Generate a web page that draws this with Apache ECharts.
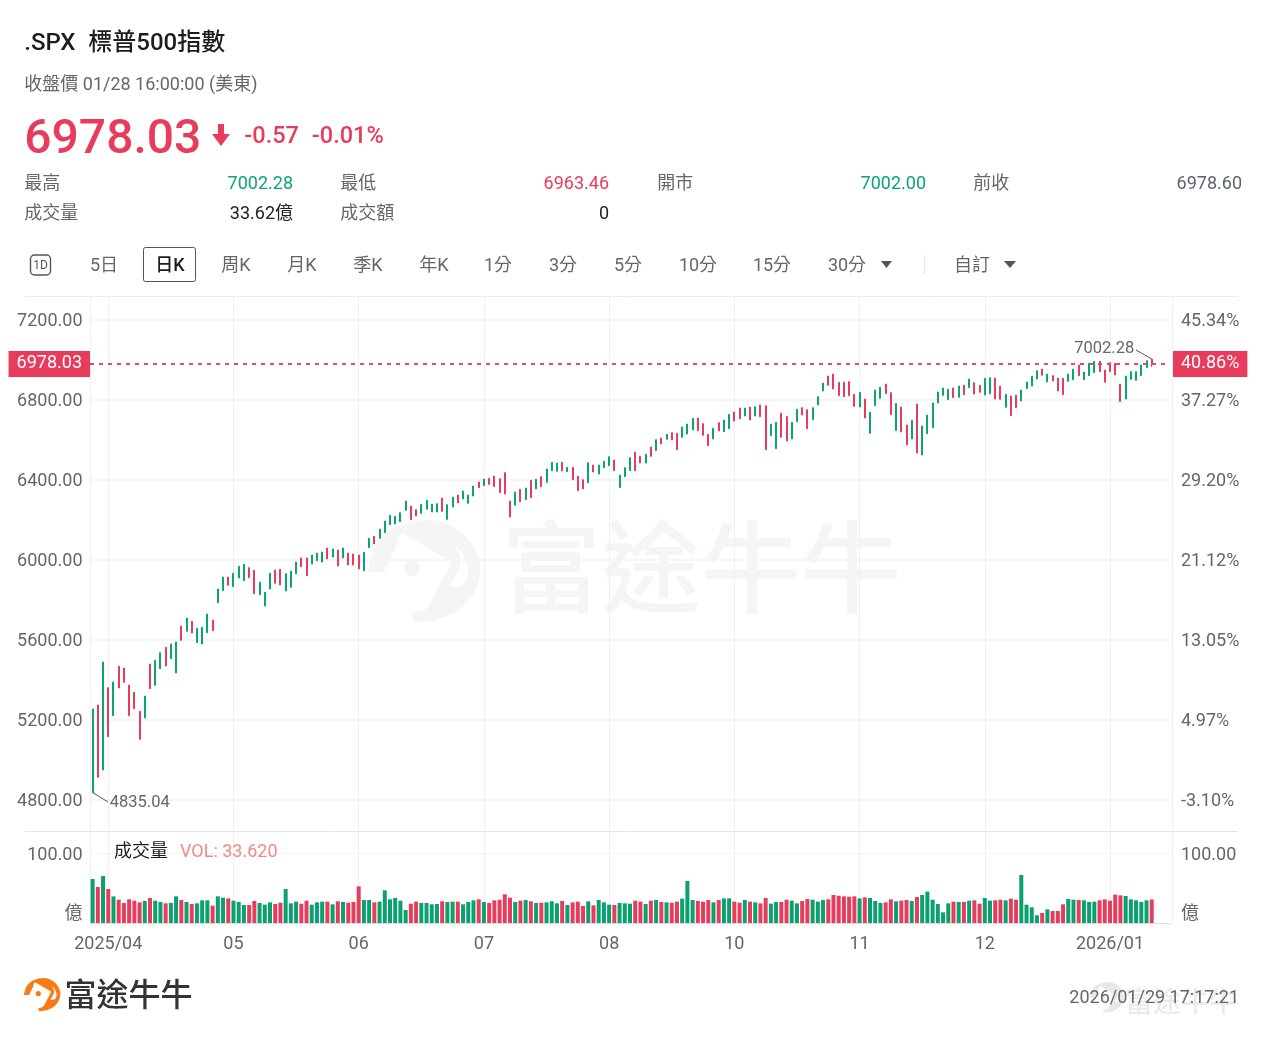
<!DOCTYPE html>
<html><head><meta charset="utf-8">
<style>html,body{margin:0;padding:0;background:#fff}#c{width:1263px;height:1037px}</style>
<script src="https://cdn.jsdelivr.net/npm/echarts@6/dist/echarts.min.js"></script>
</head><body><div id="c"></div>
<script>
// S&P 500 daily K-line, newest bar last
const highs=[5252.5,5272.5,5487.5,5359,5387.5,5466,5457.5,5372.5,5336,5241,
5317.5,5477.5,5496,5534,5561,5577.5,5587.5,5667.5,5707.5,5691,
5656,5661,5727.5,5697.5,5852.5,5912.5,5912.5,5931,5966,5976,
5959,5946,5886,5836,5931,5947.5,5951,5929,5942.5,5987.5,
6007.5,6007.5,6022.5,6032.5,6037.5,6057.5,6052.5,6047.5,6057.5,6032.5,
6027.5,6022.5,6036,6106,6116,6152.5,6192.5,6221,6216,6234,
6292.5,6267.5,6249,6276,6296,6276,6279,6307.5,6274,6311,
6322.5,6342.5,6322.5,6367.5,6387.5,6402.5,6406,6417.5,6404,6434,
6292.5,6337.5,6351,6357.5,6396,6401,6414,6452.5,6486,6482.5,
6486,6461,6461,6416,6399,6484,6472.5,6472.5,6491,6514,
6497.5,6422.5,6459,6509,6537.5,6516,6526,6562.5,6599,6607.5,
6626,6634,6631,6662.5,6677.5,6706,6707.5,6679,6626,6656,
6684,6697.5,6726,6737.5,6757.5,6757.5,6762.5,6764,6772.5,6769,
6676,6686,6731,6716,6686,6751,6759,6749,6759,6814,
6882.5,6917.5,6927.5,6886,6886,6889,6826,6836,6802.5,6736,
6847.5,6861,6877.5,6834,6780,6762.5,6672.5,6696,6777.5,6667.5,
6722.5,6782.5,6837.5,6857.5,6851,6857.5,6867.5,6871,6902.5,6884,
6871,6906,6909,6907.5,6866,6826,6817.5,6822.5,6847.5,6887.5,
6916,6944,6952.5,6927.5,6919,6907.5,6906,6927.5,6952.5,6972.5,
6937.5,6981,6991,6991,6947.5,6984,6981,6877.5,6917.5,6939,
6939,6972.5,6994,7002.28];
const lows=[4835.04,4911,4947.5,5114,5219,5357.5,5386,5219,5254,5101,
5207.5,5354,5371,5454,5467.5,5504,5432.5,5596,5641,5632.5,
5584,5577.5,5634,5644,5784,5844,5871,5864,5907.5,5894,
5909,5829,5824,5767.5,5852.5,5881,5872.5,5842.5,5861,5929,
5964,5919,5977.5,5994,5987.5,6002.5,6012.5,5967.5,6007.5,5972.5,
5972.5,5952.5,5944,6059,6077.5,6106,6134,6174,6177.5,6189,
6246,6199,6217.5,6231,6251,6237.5,6237.5,6241,6201,6262.5,
6282.5,6302.5,6281,6317.5,6359,6369,6376,6364,6334,6327.5,
6212.5,6271,6289,6299,6309,6352.5,6364,6386,6444,6441,
6442.5,6439,6399,6344,6352.5,6384,6437.5,6427.5,6459,6469,
6444,6359,6414,6444,6444,6482.5,6482.5,6516,6545,6577.5,
6601,6597.5,6549,6611,6627.5,6647.5,6644,6621,6569,6602.5,
6642.5,6639,6654,6692.5,6704,6717.5,6697.5,6717.5,6714,6549,
6619,6554,6611,6592.5,6602.5,6689,6722.5,6654,6699,6772.5,
6842.5,6871,6852.5,6819,6814,6819,6766,6762.5,6707.5,6631,
6769,6806,6829,6724,6645,6637.5,6573.5,6602.5,6532.5,6522.5,
6629,6659,6782.5,6821,6799,6809,6811,6824,6859,6827.5,
6836,6822.5,6829,6802.5,6801,6761,6719,6759,6792.5,6854,
6867.5,6902.5,6921,6887.5,6892.5,6842.5,6824,6891,6899,6919,
6899,6919,6934,6939,6886,6939,6922.5,6789,6802.5,6901,
6896,6919,6959,6963.46];
// G closes higher, R closes lower
const dirs='GRGRGRRRRR'+'GRGGRGGRGR'+'GGGRGGRGGG'+'RRGGGRRGGG'+'RRGGGRGRGR'+
'RRGGRGGGGG'+'GRRGGGGRGG'+'RGGGRGRRRR'+'RGRGRGRGGG'+'RGRRRGRGGG'+
'RGGGRRGRGR'+'GRRGGGRRRG'+'RGGRRGRGRR'+'GGRRGGRRGG'+'GRRRRRRGRG'+
'GGRRGRRGRG'+'GGGGGRGRGR'+'RGGRRGRRGG'+'GGRGRRRGGR'+'GGGRRRRRGG'+'GGGR';
const volumes=[62.9,51.4,67.1,48.6,38,33.3,28.6,33.8,31.9,29.5,
31.4,35.7,31.9,30,28.1,28.6,38.1,32.9,30,27.1,
28.1,32.4,32.4,24.8,38.1,36.2,35.2,31.9,30,25.7,
25.7,31.4,28.6,26.2,29.5,27.1,29,48.6,28.1,30.5,
27.6,31.9,26.2,29.5,30.5,30.5,26.7,31,30,29,
30,52.4,32.9,32.9,29.5,30.5,46.7,33.8,35.7,31.9,
18.6,27.6,30.5,28.6,28.6,26.7,27.1,31,30,30.5,
30.5,26.7,30,32.4,33.8,30,28.6,32.4,33.3,41,
36.2,30,31.9,32.9,31,28.6,29,29.5,31,28.1,
31.4,25.7,29.5,30.5,24.3,31,25.2,32.9,29.5,26.2,
25.7,28.6,28.1,27.6,31.9,30.5,27.1,31.9,32.9,30,
29.5,29,30.5,34.8,60,32.9,31.4,30.5,32.9,29.5,
32.9,35.2,35.2,30.5,29,32.9,30.5,29.5,28.1,35.7,
27.6,30,30,33.3,31.9,28.1,31.4,34.3,33.3,30.5,
32.9,33.8,40,39,38.1,37.6,38.1,35.2,36.7,35.7,
31.4,28.6,29.5,33.8,31,31.9,32.9,31.4,37.1,40,
44.8,33.3,27.1,15.2,28.1,30.5,30,30,31.9,32.4,
27.6,35.7,31.9,32.4,33.3,32.4,34.8,33.3,68.6,26.2,
22.4,11,14.3,19.5,17.1,17.1,26.7,34.3,33.3,32.9,
32.4,30,30.5,32.4,33.8,31.9,40.5,39.5,38.6,33.8,
32.4,30,32.4,33.62];
const lastBar={open:7002.00,close:6978.03,low:6963.46,high:7002.28};
const priceTicks=[4800,5200,5600,6000,6400,6800,7200];
const pctLabels=['-3.10%','4.97%','13.05%','21.12%','29.20%','37.27%','45.34%'];
const monthLabels={3:'2025/04',27:'05',51:'06',75:'07',99:'08',123:'10',147:'11',171:'12',195:'2026/01'};
const slotCount=207;
const categories=Array.from({length:slotCount},(_,i)=>String(i));

const GREEN='#0aa574',RED='#e83c5c',GREY='#666',FONT='Roboto,"Noto Sans CJK TC",sans-serif';
const lastIndex=highs.length-1;
const candles=highs.map((h,i)=>{
  if(i===lastIndex) return [lastBar.open,lastBar.close,lastBar.low,lastBar.high];
  return dirs[i]==='G'?[lows[i],h,lows[i],h]:[h,lows[i],lows[i],h];
});
const volumeBars=volumes.map((v,i)=>({value:v,itemStyle:{color:dirs[i]==='G'?'#0aa06f':'#e83c5c'}}));
const hasMonth=i=>monthLabels[i]!==undefined;

// y is the visual centre of the glyphs, so nudge by the font's baseline offset
function txt(x,y,text,fill,size,align,weight){
  const s=size||18,a=align||'left';
  return {type:'text',x:a==='left'?x-0.7:x,y:y+s*0.1,z:10,style:{text,fill:fill||GREY,font:`${weight||400} ${s}px ${FONT}`,align:a,verticalAlign:'middle'}};
}
function rule(x1,y1,x2,y2,stroke){
  return {type:'line',z:1,shape:{x1,y1,x2,y2},style:{stroke,lineWidth:1}};
}
// brand mark outline, registered as a reusable shape
echarts.graphic.registerShape('brandMark',echarts.graphic.extendPath('M366 572C368 545 385 522 425 520C455 520 478 545 478 568C478 598 455 622 412 622L410 612C420 612 425 610 428 604L450 562L400 533L396 538L394 547L382 572ZM452 545C458 553 460 560 458 566C456 572 452 580 447 585C455 590 464 586 466 576C468 566 462 552 452 545ZM402 568A8 8 0 1 0 418 568A8 8 0 1 0 402 568Z',{}));
function logo(x,y,scale,fill){
  return {type:'brandMark',x:x-366*scale,y:y-520*scale,scaleX:scale,scaleY:scale,z:0,style:{fill}};
}
const tabs=[[104,'5日'],[236,'周K'],[302,'月K'],[368,'季K'],[434,'年K'],[498,'1分'],[563,'3分'],[628,'5分'],[698,'10分'],[772,'15分'],[847,'30分'],[972,'自訂']];
const graphics=[
  // watermark
  logo(368,520,1,'#f5f5f7'),
  {type:'text',x:701,y:567,z:0,style:{text:'富途牛牛',fill:'#f5f5f7',font:`500 100px "Noto Sans CJK TC",sans-serif`,align:'center',verticalAlign:'middle'}},
  // header
  txt(25,41.5,'.SPX',"#1c1c1e",24,'left',500),
  txt(89,41.5,'標普500指數',"#1c1c1e",24,'left',500),
  txt(25,84,'收盤價 01/28 16:00:00 (美東)',GREY,18),
  txt(25,136,'6978.03',RED,48,'left',500),
  {type:'polygon',z:10,shape:{points:[[218,124],[224,124],[224,134],[230,134],[221,146],[212,134],[218,134]]},style:{fill:RED}},
  txt(245,135,'-0.57',RED,23.5,'left',500),
  txt(312.5,135,'-0.01%',RED,23.5,'left',500),
  txt(25,183,'最高'),txt(293,183,'7002.28',GREEN,18,'right'),
  txt(341,183,'最低'),txt(609,183,'6963.46',RED,18,'right'),
  txt(658,183,'開市'),txt(926,183,'7002.00',GREEN,18,'right'),
  txt(974,183,'前收'),txt(1242,183,'6978.60','#5c6470',18,'right'),
  txt(25,213,'成交量'),txt(293,213,'33.62億','#222',18,'right'),
  txt(341,213,'成交額'),txt(609,213,'0','#222',18,'right'),
  // period switcher
  {type:'rect',z:10,shape:{x:30.5,y:255,width:20,height:20,r:4},style:{fill:'none',stroke:'#555',lineWidth:1.4}},
  txt(40.5,265,'1D','#555',12,'center'),
  {type:'rect',z:10,shape:{x:143.5,y:247.5,width:52,height:34,r:2},style:{fill:'#fff',stroke:'#555',lineWidth:1}},
  txt(170,265,'日K','#1c1c1e',18,'center',500),
  ...tabs.map(t=>txt(t[0],265,t[1],GREY,18,'center')),
  {type:'polygon',z:10,shape:{points:[[881,261],[892,261],[886.5,268]]},style:{fill:'#555'}},
  {type:'polygon',z:10,shape:{points:[[1004,261],[1016,261],[1010,268]]},style:{fill:'#555'}},
  rule(924.5,255,924.5,274,'#e6e6e6'),
  // panel rules
  rule(25,296.5,1238,296.5,'#ececee'),
  rule(25,831.5,1238,831.5,'#e6e6e8'),
  // volume legend
  txt(114.7,851,'成交量','#1c1c1e',18),
  txt(180.7,851,'VOL: 33.620','#f08a8a',18),
  // footer
  logo(24,978,0.325,'#f97a16'),
  txt(128.5,995,'富途牛牛','#333',32,'center',500),
  logo(1090,982,0.3,'#e6e8ea'),
  txt(1181,1002,'富途牛牛','#e9ebed',28,'center',500),
  txt(1239,997,'2026/01/29 17:17:21',GREY,18,'right')
];

const chart=echarts.init(document.getElementById('c'),null,{renderer:'canvas',width:1263,height:1037});
const vertical={show:true,alignWithLabel:true,interval:i=>hasMonth(i),lineStyle:{color:'#f0f0f2',width:1}};
const edge={show:true,lineStyle:{color:'#f0f0f2',width:1}};
const axisFont={color:GREY,fontSize:18,fontFamily:FONT};
// sits the value labels level with their gridlines
const levelled={verticalAlign:'top',lineHeight:4};
const priceRange={min:4642.5,max:7312.5};
const volRange={min:0,max:131.43};
const volText=v=>v===100?'100.00':'億';
const calloutLine={color:'#555',type:'solid',width:1};
const calloutText={color:GREY,fontSize:16.5,fontFamily:FONT};
const boxLabel={color:'#fff',fontSize:18,fontFamily:FONT,backgroundColor:RED,padding:[6,8,2,8]};
const priceLine={color:RED,type:[4,5],width:1.5};
chart.setOption({
  animation:false,
  backgroundColor:'#fff',
  graphic:{elements:graphics},
  grid:[
    {left:90,width:1080,top:297,height:534},
    {left:90,width:1080,top:831,height:92}
  ],
  xAxis:[
    {type:'category',gridIndex:0,data:categories,boundaryGap:true,axisLine:{show:false},axisTick:{show:false},axisLabel:{show:false},splitLine:vertical},
    {type:'category',gridIndex:1,data:categories,boundaryGap:true,axisLine:{show:true,lineStyle:{color:'#dcdcde'}},axisTick:{show:false},splitLine:vertical,
      axisLabel:{...axisFont,margin:13,interval:i=>hasMonth(i),formatter:(v,i)=>monthLabels[i]||'',hideOverlap:false}}
  ],
  yAxis:[
    {type:'value',gridIndex:0,...priceRange,axisLine:edge,axisTick:{show:false,customValues:priceTicks},
      axisLabel:{...axisFont,...levelled,margin:7.5,customValues:priceTicks,formatter:v=>v.toFixed(2)},
      splitLine:{show:true,lineStyle:{color:'#f5f5f6',width:2}}},
    {type:'value',gridIndex:0,position:'right',offset:2,...priceRange,axisLine:edge,axisTick:{show:false,customValues:priceTicks},
      axisLabel:{...axisFont,...levelled,margin:9,customValues:priceTicks,formatter:v=>pctLabels[priceTicks.indexOf(v)]},
      splitLine:{show:false}},
    {type:'value',gridIndex:1,...volRange,axisLine:edge,axisTick:{show:false,customValues:[100]},
      axisLabel:{...axisFont,...levelled,margin:7.5,customValues:[15.7,100],formatter:volText},
      splitLine:{show:true,lineStyle:{color:'#f5f5f6',width:1}}},
    {type:'value',gridIndex:1,position:'right',offset:2,...volRange,axisLine:edge,axisTick:{show:false,customValues:[100]},
      axisLabel:{...axisFont,...levelled,margin:9,customValues:[15.7,100],formatter:volText},
      splitLine:{show:false}}
  ],
  series:[
    {type:'candlestick',xAxisIndex:0,yAxisIndex:0,data:candles,barWidth:1.5,z:3,clip:false,
      itemStyle:{color:GREEN,color0:RED,borderColor:GREEN,borderColor0:RED,borderWidth:1},
      markLine:{symbol:['none','none'],silent:true,animation:false,data:[
        {yAxis:lastBar.close,lineStyle:priceLine,
          label:{position:'start',distance:0,formatter:()=>lastBar.close.toFixed(2),...boxLabel}},
        {yAxis:lastBar.close,lineStyle:priceLine,
          label:{position:'end',distance:3,formatter:()=>'40.86%',...boxLabel}},
        [{coord:[0,lows[0]],lineStyle:calloutLine,
           label:{position:'end',distance:2,formatter:()=>lows[0].toFixed(2),...calloutText}},{x:108,y:802}],
        [{coord:[lastIndex,highs[lastIndex]],lineStyle:calloutLine,
           label:{position:'end',distance:2,padding:[6,0,0,0],formatter:()=>highs[lastIndex].toFixed(2),...calloutText}},{x:1136,y:350}]
      ]}},
    {type:'bar',xAxisIndex:1,yAxisIndex:2,data:volumeBars,barWidth:4,z:3}
  ]
});
</script></body></html>
